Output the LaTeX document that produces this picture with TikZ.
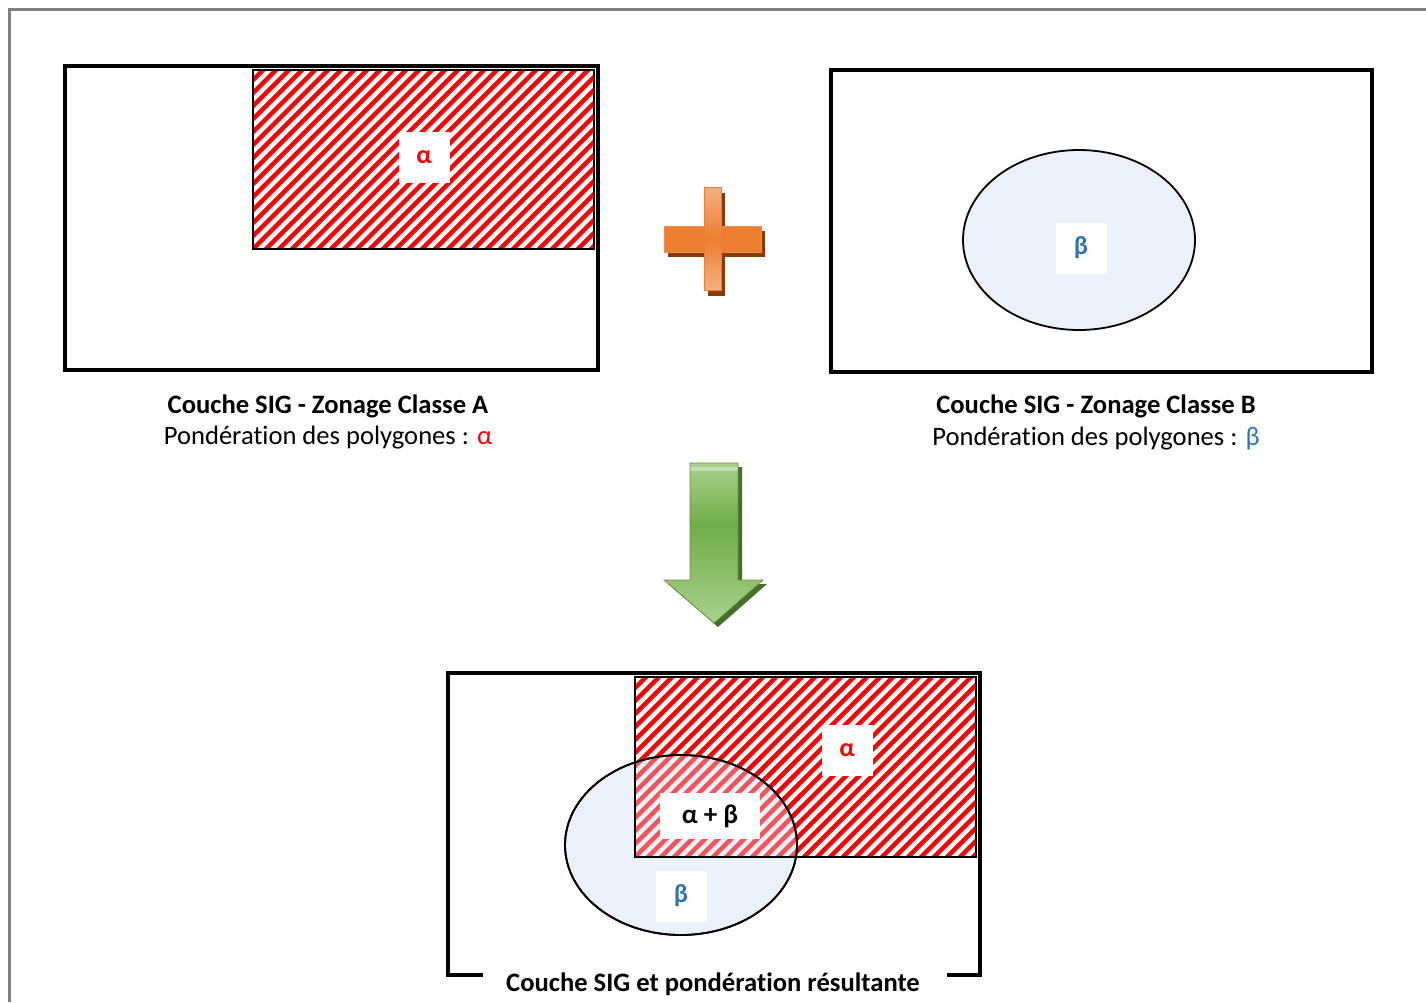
\documentclass[tikz,border=0pt]{standalone}
\usepackage{fontspec}
\setmainfont{Carlito}[Ligatures=NoCommon]
\usetikzlibrary{positioning}

\definecolor{hatchred}{RGB}{255,0,0}
\definecolor{polyblue}{RGB}{235,241,250}
\definecolor{betablue}{RGB}{46,117,182}
\definecolor{plusorange}{RGB}{237,125,49}
\definecolor{pluslight}{RGB}{244,177,131}
\definecolor{plusshadow}{RGB}{132,60,12}
\definecolor{arrowgreen}{RGB}{112,173,71}
\definecolor{arrowlight}{RGB}{169,209,142}
\definecolor{arrowshadow}{RGB}{72,110,44}
\definecolor{pageframe}{RGB}{128,128,128}

\newcommand{\hatchzone}[4]{%
\begin{scope}
\clip (#1,#2) rectangle (#3,#4);
\foreach \k in {-200,-187,...,360}
  \draw[hatch] (#1+\k,#4+5) -- ++(210,-210);
\end{scope}}

\begin{document}
\begin{tikzpicture}[x=1pt,y=-1pt,
  frame/.style={line width=3.5pt,black},
  zone/.style={draw=black,line width=1.2pt},
  hatch/.style={hatchred,line width=4.4pt},
  poly/.style={draw=black,line width=1.8pt,fill=polyblue},
  tag/.style={fill=white,minimum width=51pt,minimum height=51pt,inner sep=0pt,
    font=\fontsize{26}{30}\selectfont\bfseries},
  caption/.style={font=\fontsize{26.6}{30}\selectfont},
  title/.style={font=\fontsize{26.6}{30}\selectfont\bfseries}]

\useasboundingbox (0,0) rectangle (1426,1002);
\draw[pageframe,line width=3pt] (9,1002) -- (9,9) -- (1426,9);

% layer A
\draw[frame] (65,66) rectangle (598,370);
\hatchzone{253}{70}{594}{249}
\draw[zone] (253,70) rectangle (594,249);
\node[tag,text=hatchred] (alphaA) at (424,157) {α};

\node[title] (titleA) at (328,406) {Couche SIG - Zonage Classe A};
\node[caption] (weightA) at (328,438) {Pondération des polygones : \textcolor{hatchred}{α}};

% plus
\fill[plusshadow] (668,231) rectangle (765,257);
\fill[plusshadow] (708,193) rectangle (725,296);
\filldraw[draw=plusorange!85!white,fill=plusorange,line width=0.8pt] (664,226) rectangle (761,252);
\shade[top color=pluslight,bottom color=plusorange] (704,187) rectangle (721,239);
\shade[top color=plusorange,bottom color=pluslight] (704,239) rectangle (721,290);
\draw[plusorange,line width=0.8pt] (704,187) rectangle (721,290);

% layer B
\draw[frame] (831,70) rectangle (1372,372);
\filldraw[poly] (1079,240) ellipse (116 and 90);
\node[tag,text=betablue] (betaB) at (1081,248) {β};

\node[title] (titleB) at (1096,406) {Couche SIG - Zonage Classe B};
\node[caption] (weightB) at (1096,439) {Pondération des polygones : \textcolor{betablue}{β}};

% arrow
\fill[arrowshadow] (694,467) -- (742,467) -- (742,584) -- (767,584) -- (718,627)
  -- (668,584) -- (694,584) -- cycle;
\begin{scope}
\clip (690,463) -- (738,463) -- (738,580) -- (763,580) -- (714,623) -- (664,580)
  -- (690,580) -- cycle;
\shade[top color=arrowlight,bottom color=arrowgreen] (664,463) rectangle (763,525);
\shade[top color=arrowgreen,bottom color=arrowlight] (664,525) rectangle (763,623);
\fill[white,opacity=0.35] (690,467) rectangle (738,471);
\end{scope}
\draw[arrowgreen!85!black,line width=0.6pt]
  (690,463) -- (738,463) -- (738,580) -- (763,580) -- (714,623) -- (664,580)
  -- (690,580) -- cycle;

% result
\node[title] (titleC) at (713,984) {Couche SIG et pondération résultante};
\draw[frame] (483,975) -- (448,975) -- (448,673) -- (980,673) -- (980,975) -- (947,975);
\hatchzone{635}{677}{976}{857}
\draw[zone] (635,677) rectangle (976,857);
\filldraw[poly] (681,845) ellipse (116 and 90);
\begin{scope}[opacity=0.65]
\hatchzone{635}{755}{800}{857}
\end{scope}
\draw[black,line width=1.8pt] (681,845) ellipse (116 and 90);
\draw[zone] (635,755) -- (635,857) -- (797,857);
\node[tag,text=hatchred] (alphaC) at (847,750) {α};
\node[tag,minimum width=100pt,minimum height=46pt,font=\fontsize{27}{30}\selectfont\bfseries] (sumC) at (710,816) {α + β};
\node[tag,text=betablue] (betaC) at (681,896) {β};

\end{tikzpicture}
\end{document}
